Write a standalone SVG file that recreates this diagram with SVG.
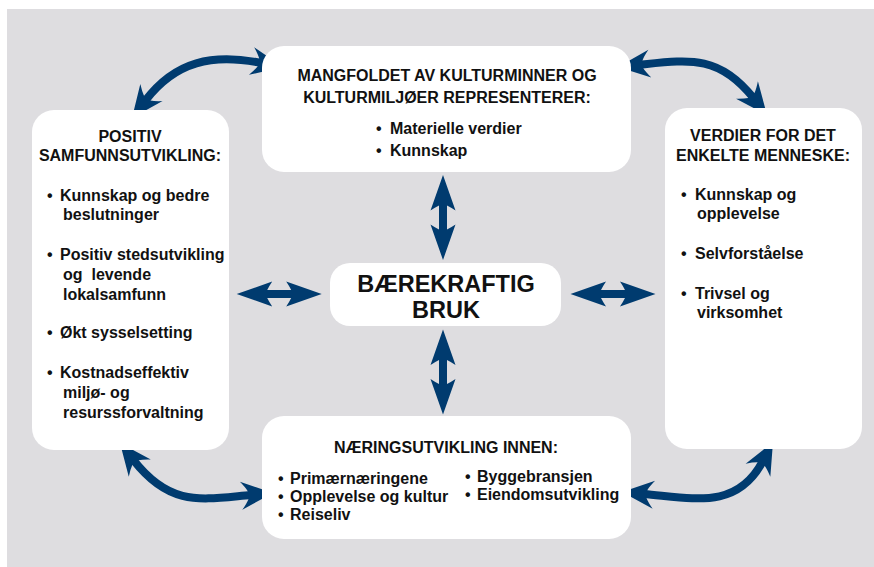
<svg xmlns="http://www.w3.org/2000/svg" width="874" height="567" viewBox="0 0 874 567">
<defs>
<style>
.box{fill:#ffffff;}
.t{font-family:"Liberation Sans",Arial,sans-serif;font-weight:bold;font-size:16px;fill:#111111;}
.c{text-anchor:middle;}
.big{font-size:23.5px;}
.arc{fill:none;stroke:#003b6f;stroke-width:8;}
.hd{fill:#003b6f;}
</style>
<path id="head" d="M0 0 L-32 -14 Q-27 -8 -25 -4 L-25 4 Q-27 8 -32 14 Z"/>
<path id="dbl" d="M-42.5 0 L-7 -12.5 Q-10 -8 -12 -4 L12 -4 Q10 -8 7 -12.5 L42.5 0 L7 12.5 Q10 8 12 4 L-12 4 Q-10 8 -7 12.5 Z"/>
</defs>
<rect x="7" y="9" width="867" height="558" fill="#dedde0"/>

<g id="connectors">
<path class="arc" d="M145.4 100.5 C175.8 60.8 212.2 53.6 261.4 62.9"/>
<use href="#head" class="hd" transform="translate(132 118) rotate(127.4)"/>
<use href="#head" class="hd" transform="translate(283 67) rotate(10.7)"/>
<path class="arc" d="M639.9 64.7 C689.7 59.5 718.9 54.8 753.3 97.8"/>
<use href="#head" class="hd" transform="translate(618 67) rotate(174)"/>
<use href="#head" class="hd" transform="translate(767 115) rotate(51.3)"/>
<path class="arc" d="M133.6 460.3 C170.7 507.5 201.3 499.3 251.1 494.9"/>
<use href="#head" class="hd" transform="translate(120 443) rotate(-128.2)"/>
<use href="#head" class="hd" transform="translate(273 493) rotate(-5)"/>
<path class="arc" d="M643.9 493.9 C693.7 498.3 736.9 510 762.7 461.4"/>
<use href="#head" class="hd" transform="translate(622 492) rotate(-175)"/>
<use href="#head" class="hd" transform="translate(773 442) rotate(-62)"/>
<use href="#dbl" class="hd" transform="translate(279.2 294)"/>
<use href="#dbl" class="hd" transform="translate(613 294)"/>
<use href="#dbl" class="hd" transform="translate(443 217.5) rotate(90)"/>
<use href="#dbl" class="hd" transform="translate(443 372) rotate(90)"/>
</g>

<g id="node-top">
<rect class="box" x="262" y="46" width="369" height="126" rx="22"/>
<text class="t c" x="447" y="81">MANGFOLDET AV KULTURMINNER OG</text>
<text class="t c" x="447" y="103">KULTURMILJØER REPRESENTERER:</text>
<text class="t" y="134"><tspan x="376">•</tspan><tspan x="390">Materielle verdier</tspan></text>
<text class="t" y="156"><tspan x="376">•</tspan><tspan x="390">Kunnskap</tspan></text>
</g>

<g id="node-left">
<rect class="box" x="32" y="110" width="197" height="340" rx="22"/>
<text class="t c" x="130" y="142">POSITIV</text>
<text class="t c" x="130" y="161">SAMFUNNSUTVIKLING:</text>
<text class="t" y="201"><tspan x="47">•</tspan><tspan x="60">Kunnskap og bedre</tspan></text>
<text class="t" x="63" y="220">beslutninger</text>
<text class="t" y="260"><tspan x="47">•</tspan><tspan x="60">Positiv stedsutvikling</tspan></text>
<text class="t" x="63" y="280" xml:space="preserve">og  levende</text>
<text class="t" x="63" y="300">lokalsamfunn</text>
<text class="t" y="338"><tspan x="47">•</tspan><tspan x="60">Økt sysselsetting</tspan></text>
<text class="t" y="378"><tspan x="47">•</tspan><tspan x="60">Kostnadseffektiv</tspan></text>
<text class="t" x="63" y="398">miljø- og</text>
<text class="t" x="63" y="418">resurssforvaltning</text>
</g>

<g id="node-right">
<rect class="box" x="665" y="108" width="197" height="341" rx="22"/>
<text class="t c" x="763" y="141">VERDIER FOR DET</text>
<text class="t c" x="763" y="161">ENKELTE MENNESKE:</text>
<text class="t" y="200"><tspan x="681">•</tspan><tspan x="695">Kunnskap og</tspan></text>
<text class="t" x="697" y="219">opplevelse</text>
<text class="t" y="259"><tspan x="681">•</tspan><tspan x="695">Selvforståelse</tspan></text>
<text class="t" y="299"><tspan x="681">•</tspan><tspan x="695">Trivsel og</tspan></text>
<text class="t" x="697" y="318">virksomhet</text>
</g>

<g id="node-center">
<rect class="box" x="330" y="263" width="231" height="63" rx="20"/>
<text class="t c big" x="446" y="292">BÆREKRAFTIG</text>
<text class="t c big" x="446" y="318">BRUK</text>
</g>

<g id="node-bottom">
<rect class="box" x="262" y="416" width="369" height="123" rx="22"/>
<text class="t c" x="446" y="453">NÆRINGSUTVIKLING INNEN:</text>
<text class="t" y="484"><tspan x="278">•</tspan><tspan x="290">Primærnæringene</tspan></text>
<text class="t" y="502"><tspan x="278">•</tspan><tspan x="290">Opplevelse og kultur</tspan></text>
<text class="t" y="520"><tspan x="278">•</tspan><tspan x="290">Reiseliv</tspan></text>
<text class="t" y="482"><tspan x="465">•</tspan><tspan x="477">Byggebransjen</tspan></text>
<text class="t" y="500"><tspan x="465">•</tspan><tspan x="477">Eiendomsutvikling</tspan></text>
</g>
</svg>
